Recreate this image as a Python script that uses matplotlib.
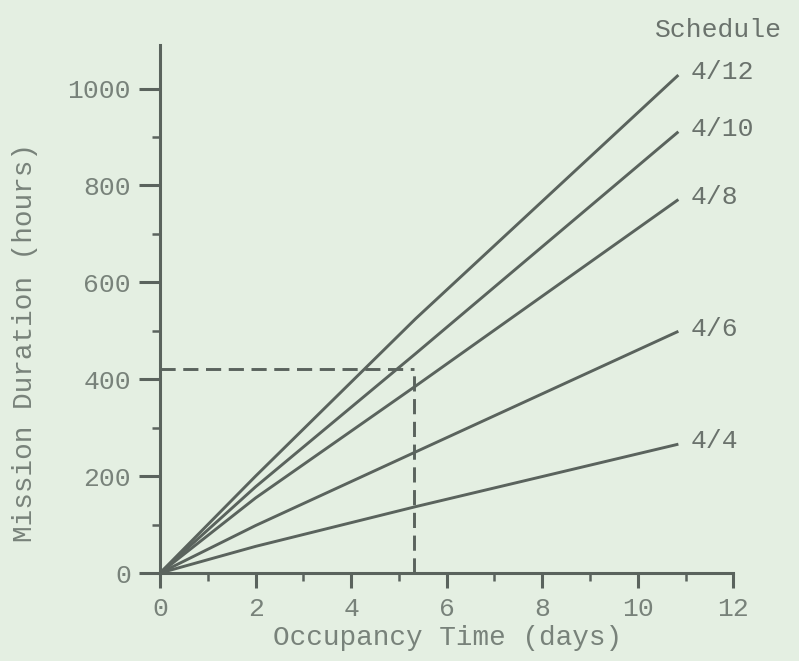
import matplotlib
matplotlib.use("Agg")
import matplotlib.pyplot as plt
from matplotlib.ticker import MultipleLocator

# occupancy time (days) sample points
days = [0, 2, 5.35, 10.85]

# mission duration (hours) for each work/rest schedule
schedules = ["4/12", "4/10", "4/8", "4/6", "4/4"]
hours_4_12 = [0, 200, 525, 1028]
hours_4_10 = [0, 178, 453, 911]
hours_4_8 = [0, 155, 386, 771]
hours_4_6 = [0, 98, 250, 499]
hours_4_4 = [0, 55, 137, 266]
series = [hours_4_12, hours_4_10, hours_4_8, hours_4_6, hours_4_4]

# example read-off shown with dashed lines
example_days = 5.32
example_hours = 422

bg = "#e4efe2"
ink = "#5a635d"
text_col = "#78827a"
font = ["Liberation Mono", "DejaVu Sans Mono"]

fig = plt.figure(figsize=(7.99, 6.61), dpi=100, facecolor=bg)
ax = fig.add_axes([0.2003, 0.1331, 0.7175, 0.7988], facecolor=bg)

for name, vals in zip(schedules, series):
    ax.plot(days, vals, color=ink, lw=2.1, solid_capstyle="butt",
            solid_joinstyle="round")
    ax.annotate(name, xy=(days[-1], vals[-1]), xytext=(9, 2),
                textcoords="offset points", ha="left", va="center",
                fontsize=19, family=font, color="#6a726c")

ax.plot([0, example_days], [example_hours, example_hours], color=ink,
        lw=2.1, ls=(0, (5.2, 2.6)))
ax.plot([example_days, example_days], [0, example_hours], color=ink,
        lw=2.1, ls=(0, (5.2, 2.6)))

ax.set_xlim(0, 12)
ax.set_ylim(0, 1090)
ax.xaxis.set_major_locator(MultipleLocator(2))
ax.xaxis.set_minor_locator(MultipleLocator(1))
ax.yaxis.set_major_locator(MultipleLocator(200))
ax.yaxis.set_minor_locator(MultipleLocator(100))

for side in ["top", "right"]:
    ax.spines[side].set_visible(False)
for side in ["left", "bottom"]:
    ax.spines[side].set_color(ink)
    ax.spines[side].set_linewidth(2.2)

ax.tick_params(which="major", direction="out", length=11, width=2.2,
               color=ink, labelcolor=text_col, labelsize=19, pad=6)
ax.tick_params(which="minor", direction="out", length=5.5, width=1.8, color=ink)
ax.tick_params(axis="y", which="major", length=15)
for lab in ax.get_xticklabels() + ax.get_yticklabels():
    lab.set_family(font)

fig.text(655 / 799, 1 - 30 / 661, "Schedule", ha="left", va="center",
         fontsize=19, family=font, color="#6a726c")
fig.text(25 / 799, 1 - 342 / 661, "Mission Duration (hours)", rotation=90,
         ha="center", va="center", fontsize=20, family=font, color=text_col)
fig.text(448 / 799, 1 - 638 / 661, "Occupancy Time (days)", ha="center",
         va="center", fontsize=20, family=font, color=text_col)

fig.savefig("out.png", dpi=100, facecolor=bg)
